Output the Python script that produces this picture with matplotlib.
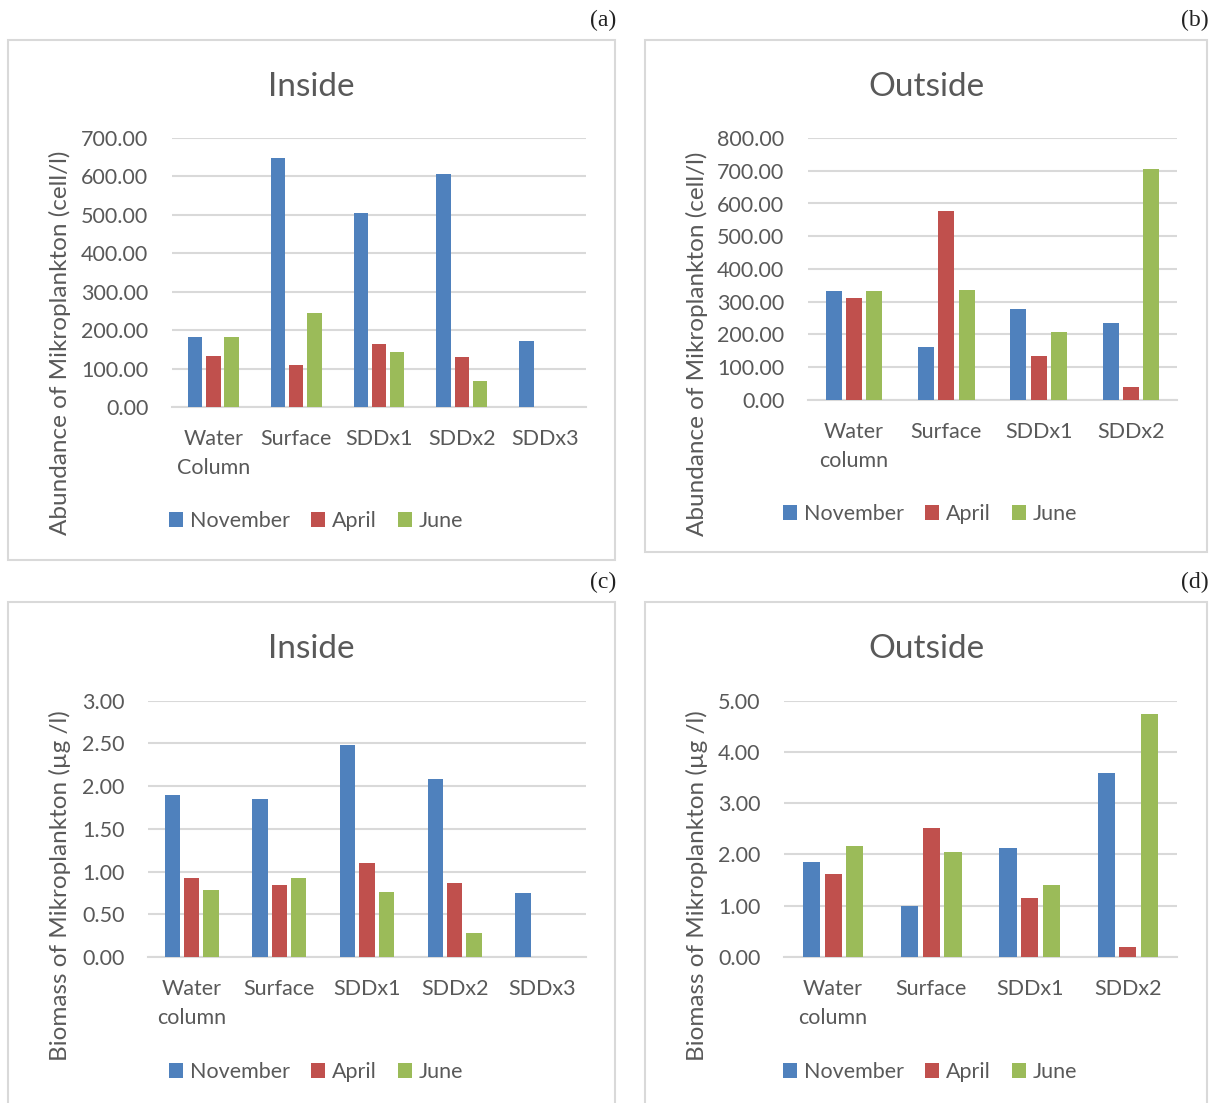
import numpy as np
import matplotlib
matplotlib.use("Agg")
import matplotlib.pyplot as plt
from matplotlib.patches import Rectangle, Patch
from matplotlib.ticker import FormatStrFormatter

plt.rcParams["font.family"] = ["Lato", "DejaVu Sans"]

# Abundance (cell/l), inside
cats_in = ["Water\nColumn", "Surface", "SDDx1", "SDDx2", "SDDx3"]
abund_in_nov = [182, 647, 505, 607, 172]
abund_in_apr = [134, 108, 165, 130, np.nan]
abund_in_jun = [182, 244, 143, 68, np.nan]

# Abundance (cell/l), outside
cats_out = ["Water\ncolumn", "Surface", "SDDx1", "SDDx2"]
abund_out_nov = [333, 162, 279, 236]
abund_out_apr = [310, 576, 134, 40]
abund_out_jun = [333, 335, 208, 704]

# Biomass (ug/l), inside
cats_in_bio = ["Water\ncolumn", "Surface", "SDDx1", "SDDx2", "SDDx3"]
bio_in_nov = [1.90, 1.85, 2.48, 2.08, 0.745]
bio_in_apr = [0.93, 0.84, 1.10, 0.87, np.nan]
bio_in_jun = [0.79, 0.93, 0.76, 0.28, np.nan]

# Biomass (ug/l), outside
bio_out_nov = [1.85, 1.00, 2.12, 3.59]
bio_out_apr = [1.61, 2.52, 1.16, 0.195]
bio_out_jun = [2.165, 2.055, 1.40, 4.75]

months = ["November", "April", "June"]
colors = ["#4f81bd", "#c0504d", "#9bbb59"]
TXT = "#595959"
GRID = "#d9d9d9"

W, H = 1214, 1103
fig = plt.figure(figsize=(W / 100, H / 100), dpi=100)


def rect(x0, y0, x1, y1):
    return [x0 / W, 1 - y1 / H, (x1 - x0) / W, (y1 - y0) / H]


def box(x0, y0, x1, y1):
    fig.patches.append(Rectangle((x0 / W, 1 - y1 / H), (x1 - x0) / W, (y1 - y0) / H,
                                 transform=fig.transFigure, fill=False,
                                 edgecolor=GRID, linewidth=1.5))


def panel(area, frame, title, title_xy, ylabel, ylabel_xy, cats, series,
          ymax, ystep, leg_xy, tag, tag_xy):
    box(*frame)
    ax = fig.add_axes(rect(*area))
    x = np.arange(len(cats))
    for i, (vals, c) in enumerate(zip(series, colors)):
        ax.bar(x + (i - 1) * 0.22, vals, width=0.175, color=c, zorder=3)
    ax.set_xlim(-0.5, len(cats) - 0.5)
    ax.set_ylim(0, ymax)
    ax.set_yticks(np.arange(0, ymax + ystep / 2, ystep))
    ax.yaxis.set_major_formatter(FormatStrFormatter("%.2f"))
    ax.set_xticks(x)
    ax.set_xticklabels(cats, linespacing=1.55)
    ax.grid(axis="y", color=GRID, linewidth=1.5, zorder=0)
    for s in ["top", "right", "left"]:
        ax.spines[s].set_visible(False)
    ax.spines["bottom"].set_color(GRID)
    ax.spines["bottom"].set_linewidth(1.5)
    ax.tick_params(length=0, labelsize=15.5, labelcolor=TXT)
    ax.tick_params(axis="y", pad=17)
    ax.tick_params(axis="x", pad=16)

    fig.text(title_xy[0] / W, 1 - title_xy[1] / H, title, ha="center", va="center",
             fontsize=24, color=TXT)
    fig.text(ylabel_xy[0] / W, 1 - ylabel_xy[1] / H, ylabel, ha="center", va="center",
             rotation=90, fontsize=17.5, color=TXT)
    handles = [Patch(facecolor=c, label=m) for m, c in zip(months, colors)]
    fig.legend(handles=handles, loc="center", ncol=3, frameon=False,
               bbox_to_anchor=(leg_xy[0] / W, 1 - leg_xy[1] / H),
               fontsize=15.5, labelcolor=TXT, handlelength=0.65, handleheight=0.65,
               handletextpad=0.3, columnspacing=1.0)
    fig.text(tag_xy[0] / W, 1 - tag_xy[1] / H, tag, ha="right", va="center",
             fontsize=17, family="Liberation Serif", color="#222222")
    return ax


panel((172, 138, 586, 407), (8, 40, 615, 560), "Inside", (311, 87),
      "Abundance of Mikroplankton (cell/l)", (60, 343), cats_in,
      [abund_in_nov, abund_in_apr, abund_in_jun], 700, 100, (316, 521), "(a)", (616, 20))

panel((808, 138, 1177, 400), (645, 40, 1207, 552), "Outside", (926, 87),
      "Abundance of Mikroplankton (cell/l)", (697, 344), cats_out,
      [abund_out_nov, abund_out_apr, abund_out_jun], 800, 100, (930, 514), "(b)", (1209, 20))

panel((148, 700.7, 586, 957), (8, 602, 615, 1110), "Inside", (311, 649),
      "Biomass of Mikroplankton (µg /l)", (60, 886), cats_in_bio,
      [bio_in_nov, bio_in_apr, bio_in_jun], 3, 0.5, (316, 1072), "(c)", (616, 582))

panel((784, 700.7, 1177, 957), (645, 602, 1207, 1110), "Outside", (926, 649),
      "Biomass of Mikroplankton (µg /l)", (697, 886), cats_out,
      [bio_out_nov, bio_out_apr, bio_out_jun], 5, 1, (930, 1072), "(d)", (1209, 582))

fig.savefig("out.png", dpi=100, facecolor="white")
